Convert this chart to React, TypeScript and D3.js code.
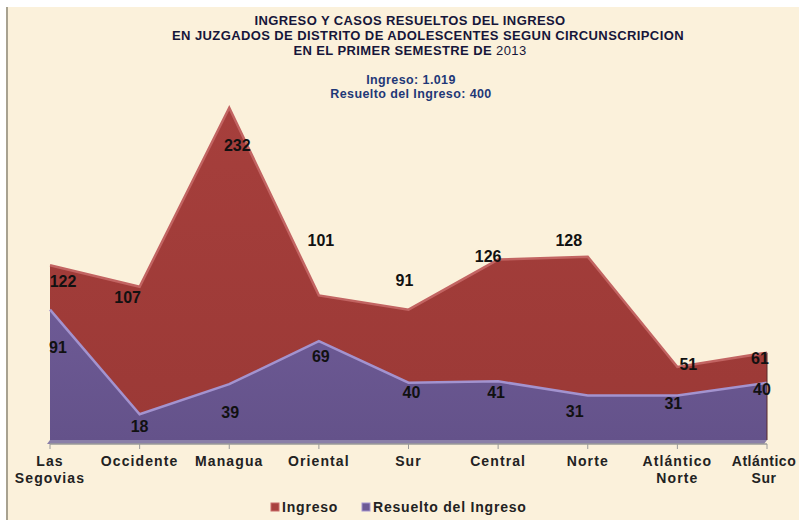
import React from 'react';
import * as d3 from 'd3';

// ingreso y resueltos por circunscripcion, I semestre 2013

const categories = [
  'Las Segovias', 'Occidente', 'Managua', 'Oriental', 'Sur',
  'Central', 'Norte', 'Atlántico Norte', 'Atlántico Sur',
];
const ingreso = [122, 107, 232, 101, 91, 126, 128, 51, 61];
const resuelto = [91, 18, 39, 69, 40, 41, 31, 31, 40];

const titleLines = [
  'INGRESO Y CASOS RESUELTOS DEL INGRESO',
  'EN JUZGADOS DE DISTRITO DE ADOLESCENTES  SEGUN CIRCUNSCRIPCION',
  'EN EL PRIMER SEMESTRE DE',
];
const subtitleLines = ['Ingreso: 1.019', 'Resuelto del Ingreso: 400'];
const legendNames = ['Ingreso', 'Resuelto del Ingreso'];

// label nudges, the way excel put them (dx, dy from point)
const ingresoLabelOff = [
  [13, 22], [-12, 16], [8, 43], [2, -49], [-4, -24], [-10, 2], [-19, -11], [11, 3], [-7, 11],
];
const resueltoLabelOff = [
  [8, 43], [0, 18], [1, 34], [2, 21], [3, 15], [-2, 17], [-13, 21], [-4, 13], [-5, 12],
];

const W = 799;
const H = 520;
const font = '"Liberation Sans", Arial, sans-serif';

export default function App() {
  const x = d3.scalePoint<string>().domain(categories).range([50, 767]);
  const y = d3.scaleLinear().domain([0, 250]).range([440, 82]);

  const area = d3.area<number>()
    .x((_, i) => x(categories[i]) as number)
    .y0(y(0))
    .y1((d) => y(d));
  const line = d3.line<number>()
    .x((_, i) => x(categories[i]) as number)
    .y((d) => y(d));

  const xEnd = x(categories[categories.length - 1]) as number;
  const xStart = x(categories[0]) as number;

  return (
    <svg width={W} height={H} style={{ position: 'absolute', left: 0, top: 0 }}
      fontFamily={font}>
      <defs>
        <linearGradient id="gRed" x1="0" y1="0" x2="0" y2="1">
          <stop offset="0" stopColor="#a63f3c" />
          <stop offset="1" stopColor="#9b3936" />
        </linearGradient>
        <linearGradient id="gPur" x1="0" y1="0" x2="0" y2="1">
          <stop offset="0" stopColor="#6d5a95" />
          <stop offset="1" stopColor="#64528a" />
        </linearGradient>
      </defs>
      <rect x={0} y={0} width={W} height={H} fill="#ffffff" />
      <rect x={7} y={7} width={W - 7} height={H - 7} fill="#fbf1db" />
      <line x1={7} y1={7} x2={7} y2={H} stroke="#a8a290" strokeWidth={2} />

      {/* titulo */}
      <g textAnchor="middle" fill="#16163a" fontWeight="bold" fontSize={13} letterSpacing={0.4}>
        {titleLines.map((t, i) => (
          <text key={i} x={i === 1 ? 428 : 410} y={25 + i * 15}>
            {t}
            {i === 2 && <tspan fontWeight="normal"> 2013</tspan>}
          </text>
        ))}
      </g>
      <g textAnchor="middle" fill="#1f3877" fontWeight="bold" fontSize={12.5} letterSpacing={0.4}>
        {subtitleLines.map((t, i) => (
          <text key={i} x={411} y={84 + i * 14}>{t}</text>
        ))}
      </g>

      {/* piso */}
      <path d={`M${xStart},${y(0)} L${xEnd},${y(0)} L${xEnd - 3},${y(0) + 4} L${xStart - 3},${y(0) + 4} Z`}
        fill="#8a7fa8" />

      {/* areas */}
      <path d={area(ingreso) || ''} fill="url(#gRed)" />
      <path d={line(ingreso) || ''} fill="none" stroke="#c26462" strokeWidth={2.5} />
      <path d={area(resuelto) || ''} fill="url(#gPur)" />
      <path d={line(resuelto) || ''} fill="none" stroke="#a393cf" strokeWidth={2.5} />
      <line x1={xEnd} y1={y(ingreso[8])} x2={xEnd} y2={y(0)} stroke="#5a2a2a" strokeOpacity={0.5} strokeWidth={2} />

      {/* eje */}
      <line x1={xStart} y1={444} x2={xEnd} y2={444} stroke="#9a9a9a" strokeWidth={1.5} />
      {categories.map((c) => (
        <line key={c} x1={x(c)} x2={x(c)} y1={444} y2={449} stroke="#9a9a9a" />
      ))}

      {/* etiquetas de datos */}
      <g textAnchor="middle" fontWeight="bold" fontSize={16} fill="#111">
        {ingreso.map((v, i) => (
          <text key={'i' + i} x={(x(categories[i]) as number) + ingresoLabelOff[i][0]}
            y={y(v) + ingresoLabelOff[i][1]}>{v}</text>
        ))}
        {resuelto.map((v, i) => (
          <text key={'r' + i} x={(x(categories[i]) as number) + resueltoLabelOff[i][0]}
            y={y(v) + resueltoLabelOff[i][1]}>{v}</text>
        ))}
      </g>

      {/* categorias */}
      <g textAnchor="middle" fontWeight="bold" fontSize={14} fill="#222">
        {categories.map((c, i) => {
          const parts = c === 'Las Segovias' || c.startsWith('Atlántico') ? c.split(' ') : [c];
          const last = i === categories.length - 1;
          // el ultimo se sale del borde, lo corro un poco
          const cx = (x(c) as number) - (last ? 3 : 0);
          return (
            <text key={c} x={cx} y={466} letterSpacing={last ? 0.5 : 1.1}>
              {parts.map((p, j) => (
                <tspan key={j} x={cx} dy={j === 0 ? 0 : 17}>{p}</tspan>
              ))}
            </text>
          );
        })}
      </g>

      {/* leyenda */}
      <g fontWeight="bold" fontSize={14} fill="#222" letterSpacing={0.8}>
        <rect x={271} y={503} width={8} height={8} fill="#a8413e" stroke="#c86b68" />
        <text x={282} y={512}>{legendNames[0]}</text>
        <rect x={362} y={503} width={8} height={8} fill="#6d5a95" stroke="#a393cf" />
        <text x={373} y={512}>{legendNames[1]}</text>
      </g>
    </svg>
  );
}
